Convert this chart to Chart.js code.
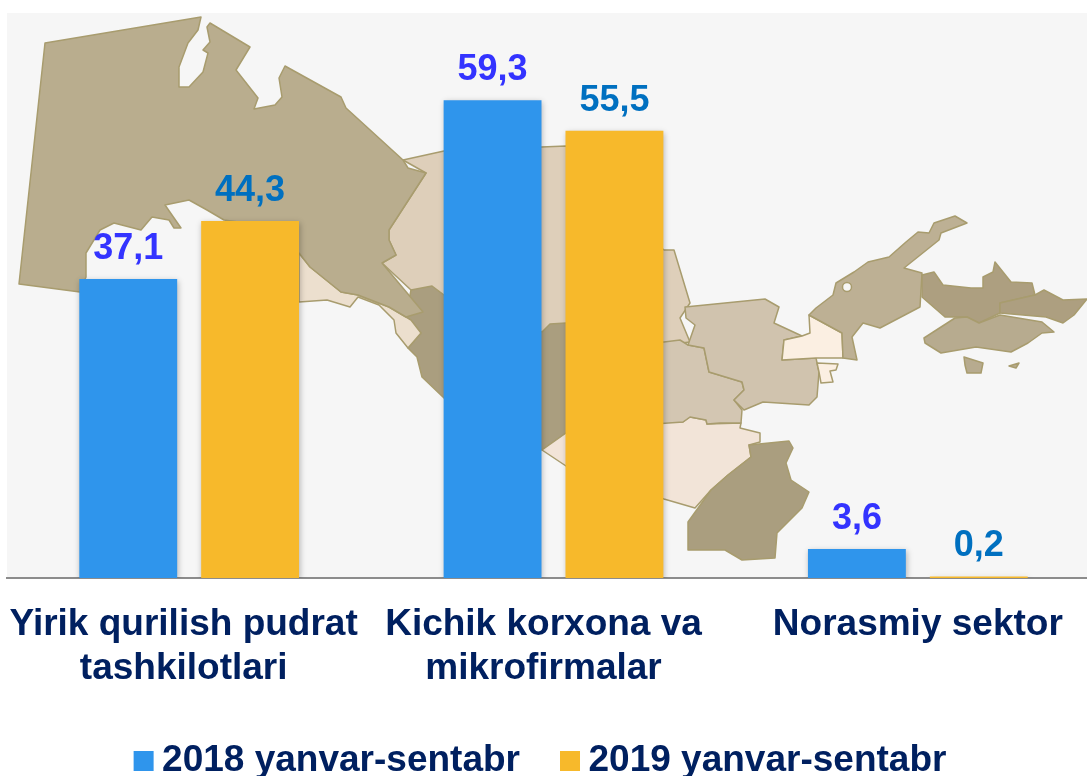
<!DOCTYPE html>
<html><head><meta charset="utf-8">
<script src="https://cdn.jsdelivr.net/npm/chart.js@4"></script>
<style>html,body{margin:0;padding:0;background:#fff;overflow:hidden;width:1087px;height:776px}canvas{display:block}</style>
</head><body><canvas id="c" width="1100" height="776"></canvas>
<script>
const categories = [['Yirik qurilish pudrat','tashkilotlari'],['Kichik korxona va','mikrofirmalar'],['Norasmiy sektor']];
const seriesNames = ['2018 yanvar-sentabr','2019 yanvar-sentabr'];
const values2018 = [37.1,59.3,3.6];
const values2019 = [44.3,55.5,0.2];
const barColors = ['#2f95ec','#f7b92b'];
const valueLabelColors = ['#3333ff','#0070c0'];
const textColor = '#002060';
const labelShift = [-5.5,-10,0];

// decorative backdrop map: [fill, points]
const mapRegions = [
 ['#decfba',[[403,160],[444,151],[566,146],[640,230],[664,250],[674,250],[690,303],[680,318],[690,342],[664,345],[566,345],[444,300],[411,290],[382,263],[396,255],[389,240],[389,230],[426,173]]],
 ['#aa9e7f',[[411,290],[432,286],[444,295],[542,332],[550,324],[566,323],[640,340],[640,420],[566,433],[542,450],[500,430],[444,398],[422,377],[417,357],[408,348],[421,333],[406,317]]],
 ['#ecdfce',[[299,253],[310,267],[341,292],[358,295],[389,307],[406,317],[411,320],[421,333],[408,348],[396,333],[394,320],[379,305],[358,297],[350,307],[327,300],[299,302]]],
 ['#f2e4d8',[[566,433],[664,422],[683,422],[690,417],[706,420],[707,424],[741,423],[740,428],[760,433],[760,442],[749,445],[751,457],[728,475],[711,490],[695,508],[664,499],[566,466],[542,450]]],
 ['#aa9e7f',[[749,445],[789,441],[793,448],[786,463],[791,480],[809,492],[802,508],[777,533],[775,558],[742,560],[725,550],[688,550],[688,522],[711,490],[728,475],[751,457]]],
 ['#d3c6b2',[[640,342],[664,342],[680,340],[688,345],[704,348],[709,372],[742,382],[744,390],[734,400],[742,410],[741,423],[720,423],[707,424],[706,420],[690,417],[683,422],[640,425]]],
 ['#d0c3ae',[[685,307],[765,299],[779,307],[774,323],[802,336],[784,340],[782,360],[816,358],[819,372],[817,397],[809,405],[763,402],[744,410],[734,400],[744,390],[742,382],[709,372],[704,348],[688,345],[695,325],[686,318]]],
 ['#fbefe2',[[809,315],[842,333],[843,358],[816,358],[782,360],[784,340],[802,336],[810,333]]],
 ['#fbefe2',[[817,363],[838,364],[836,370],[830,371],[833,382],[821,383],[819,372]]],
 ['#bdb094',[[967,223],[955,216],[934,223],[929,233],[918,232],[906,242],[889,257],[868,262],[854,272],[836,283],[833,295],[816,308],[809,315],[842,333],[843,358],[857,360],[852,337],[863,323],[880,328],[920,307],[922,273],[904,268],[939,240],[941,233]]],
 ['#ad9f80',[[922,275],[934,272],[943,285],[971,288],[983,288],[983,277],[993,272],[995,262],[1011,282],[1032,283],[1035,295],[1000,303],[1000,313],[979,323],[967,317],[945,317],[922,297]]],
 ['#ad9f80',[[1035,295],[1044,290],[1063,300],[1087,299],[1074,315],[1063,323],[1046,317],[1000,313],[1000,303]]],
 ['#b7ab8f',[[924,338],[955,318],[967,317],[979,323],[1000,315],[1042,322],[1054,332],[1042,333],[1028,343],[1011,352],[976,347],[941,353],[925,343]]],
 ['#b7ab8f',[[964,357],[983,363],[981,373],[967,373],[965,365]]],
 ['#b7ab8f',[[1009,366],[1019,363],[1016,368]]],
 ['#b9ad8e',[[45,43],[201,17],[198,30],[188,43],[179,67],[179,87],[189,87],[203,72],[208,53],[203,50],[210,42],[207,27],[210,23],[250,47],[236,70],[258,98],[254,109],[275,105],[282,97],[279,78],[285,66],[341,97],[346,108],[403,160],[408,168],[426,173],[389,230],[389,240],[396,255],[382,263],[423,312],[406,317],[389,307],[358,295],[341,292],[310,267],[299,253],[260,225],[224,220],[207,210],[189,200],[165,205],[181,228],[174,228],[169,220],[152,217],[141,230],[114,223],[100,230],[86,253],[86,277],[80,292],[19,284]]]
];

const backdrop = {
 id:'backdrop',
 beforeDraw(chart){
  const ctx = chart.ctx;
  ctx.save();
  ctx.fillStyle = '#f6f6f6';
  ctx.fillRect(7,13,1093,565);
  ctx.lineJoin = 'round';
  ctx.lineWidth = 1.5;
  ctx.strokeStyle = '#a89c6e';
  for (const [fill,pts] of mapRegions){
   ctx.beginPath();
   pts.forEach((p,i)=> i ? ctx.lineTo(p[0],p[1]) : ctx.moveTo(p[0],p[1]));
   ctx.closePath();
   ctx.fillStyle = fill;
   ctx.fill();
   ctx.stroke();
  }
  ctx.beginPath();
  ctx.arc(847,287,4.5,0,Math.PI*2);
  ctx.fillStyle = '#f6f6f6';
  ctx.fill();
  ctx.stroke();
  ctx.restore();
 }
};
const barShadow = {
 id:'barShadow',
 beforeDatasetsDraw(chart){
  const ctx = chart.ctx;
  ctx.save();
  ctx.shadowColor = 'rgba(0,0,0,0.28)';
  ctx.shadowBlur = 6;
  ctx.shadowOffsetX = 1;
  ctx.shadowOffsetY = 2;
 },
 afterDatasetsDraw(chart){
  const ctx = chart.ctx;
  ctx.restore();
  ctx.save();
  ctx.font = 'bold 36px "Liberation Sans", Arial, sans-serif';
  ctx.textAlign = 'center';
  ctx.textBaseline = 'alphabetic';
  chart.data.datasets.forEach((ds,d)=>{
   ctx.fillStyle = valueLabelColors[d];
   chart.getDatasetMeta(d).data.forEach((bar,i)=>{
    ctx.fillText(ds.data[i].toFixed(1).replace('.',','), bar.x, bar.y-20);
   });
  });
  ctx.restore();
 }
};
const placement = {
 id:'placement',
 afterLayout(chart){
  const lg = chart.legend;
  const dx = -8.5;
  const h = lg.bottom - lg.top;
  lg.left += dx; lg.right += dx;
  lg.top = 742.5 - lg.options.labels.padding; lg.bottom = lg.top + h;
  const xs = chart.scales.x;
  xs.getLabelItems(chart.chartArea).forEach((it,i)=>{
   const t = it.options.translation;
   if (t) t[0] += labelShift[i];
  });
 }
};

new Chart(document.getElementById('c'),{
 type:'bar',
 data:{labels:categories,datasets:[
  {label:seriesNames[0],data:values2018,backgroundColor:barColors[0],borderWidth:0},
  {label:seriesNames[1],data:values2019,backgroundColor:barColors[1],borderWidth:0}
 ]},
 plugins:[backdrop,barShadow,placement],
 options:{
  responsive:false,animation:false,
  layout:{padding:{left:7,right:0,top:14,bottom:0}},
  datasets:{bar:{categoryPercentage:0.669,barPercentage:0.803}},
  scales:{
   x:{
    grid:{display:false,drawTicks:false},
    border:{display:true,color:'#8c8c8c',width:2},
    afterFit(s){ s.height = 101; s.paddingLeft = 0; s.paddingRight = 0; },
    ticks:{color:textColor,padding:25,maxRotation:0,minRotation:0,
      font:{family:'"Liberation Sans", Arial, sans-serif',size:37,weight:'bold',lineHeight:1.19}}
   },
   y:{display:false,min:0,max:70,grid:{display:false}}
  },
  plugins:{
   tooltip:{enabled:false},
   legend:{display:true,position:'bottom',
    labels:{usePointStyle:true,pointStyle:'rect',boxHeight:20,boxWidth:0.01,padding:50,color:textColor,
      font:{family:'"Liberation Sans", Arial, sans-serif',size:37,weight:'bold'}}}
  }
 }
});
</script></body></html>
